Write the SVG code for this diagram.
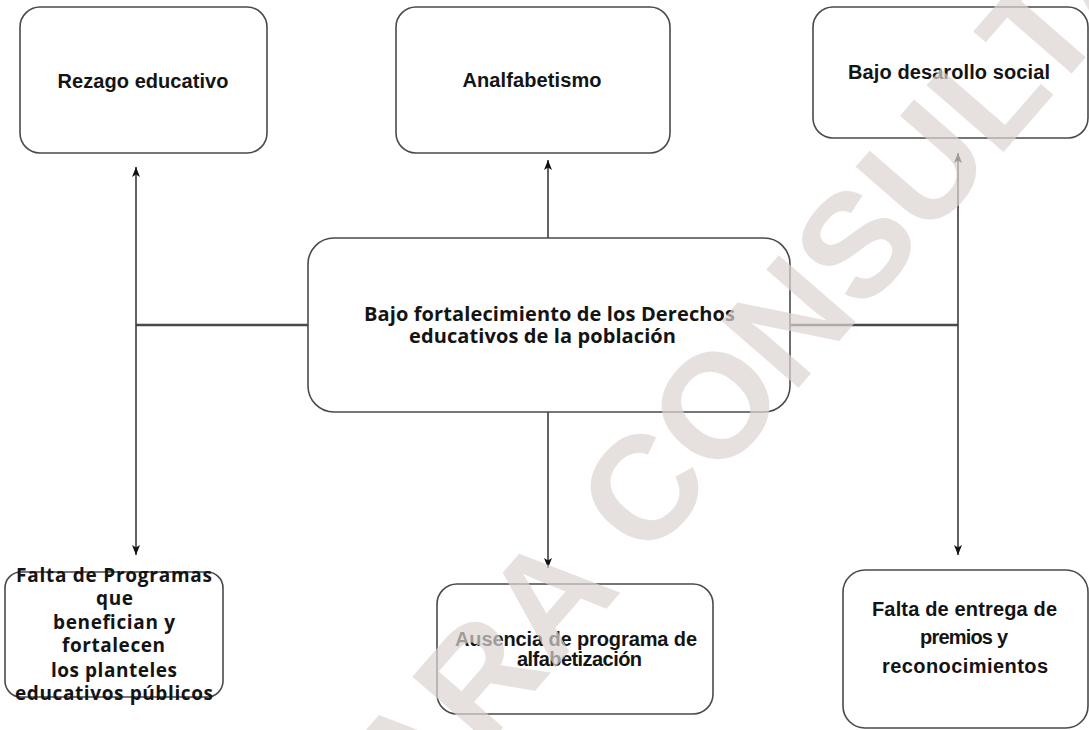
<svg xmlns="http://www.w3.org/2000/svg" width="1089" height="730" viewBox="0 0 1089 730">
<style>
.box{fill:#fff;stroke:#4a4a4a;stroke-width:1.6}
.t{font-family:"Liberation Sans",Arial,sans-serif;font-weight:bold;font-size:20px;fill:#141414;text-anchor:middle}
.h{font-family:"Open Sans","Noto Sans",sans-serif;font-weight:bold;fill:#141414;text-anchor:middle}
.ln{stroke:#3a3a3a;stroke-width:1.6;fill:none}
.lnb{stroke:#4a4a4a;stroke-width:2.6;fill:none}
.wm{font-family:"Liberation Sans",Arial,sans-serif;font-weight:bold;font-size:148px;fill:#dcd5d2;opacity:0.7}
</style>
<defs>
<marker id="ah" viewBox="0 0 10 10" refX="10" refY="5" markerWidth="10" markerHeight="10" markerUnits="userSpaceOnUse" orient="auto">
<path d="M0,1 L10,5 L0,9 L2.5,5 Z" fill="#111"/>
</marker>
</defs>
<rect width="1089" height="730" fill="#fff"/>
<g id="connectors">
<line class="lnb" x1="136" y1="325" x2="308" y2="325"/>
<line class="lnb" x1="790" y1="325" x2="958" y2="325"/>
<line class="ln" x1="136" y1="325" x2="136" y2="167" marker-end="url(#ah)"/>
<line class="ln" x1="136" y1="325" x2="136" y2="555" marker-end="url(#ah)"/>
<line class="ln" x1="548" y1="238" x2="548" y2="160" marker-end="url(#ah)"/>
<line class="ln" x1="548" y1="412" x2="548" y2="568" marker-end="url(#ah)"/>
<line class="ln" x1="958" y1="325" x2="958" y2="153" marker-end="url(#ah)"/>
<line class="ln" x1="958" y1="325" x2="958" y2="555" marker-end="url(#ah)"/>
</g>
<g id="n-rezago">
<rect class="box" x="20" y="7" width="247" height="146" rx="20"/>
<text class="t" x="143" y="88" textLength="171">Rezago educativo</text>
</g>
<g id="n-analfabetismo">
<rect class="box" x="396" y="7" width="274" height="146" rx="20"/>
<text class="t" x="532" y="87" textLength="139">Analfabetismo</text>
</g>
<g id="n-desarrollo">
<rect class="box" x="813" y="7" width="275" height="131" rx="20"/>
<text class="t" x="949" y="79" textLength="202">Bajo desarollo social</text>
</g>
<g id="n-centro">
<rect class="box" x="308" y="238" width="482" height="174" rx="26"/>
<text class="h" font-size="20" x="549.5" y="321" textLength="371">Bajo fortalecimiento de los Derechos</text>
<text class="h" font-size="20" x="542.5" y="343" textLength="267">educativos de la población</text>
</g>
<g id="n-programas">
<rect class="box" x="5" y="572" width="218" height="125" rx="16"/>
<text class="h" font-size="19" x="114" y="582" textLength="196">Falta de Programas</text>
<text class="h" font-size="19" x="114.5" y="605" textLength="37">que</text>
<text class="h" font-size="19" x="114" y="629" textLength="122">benefician y</text>
<text class="h" font-size="19" x="113.5" y="652" textLength="103">fortalecen</text>
<text class="h" font-size="19" x="114" y="677" textLength="126">los planteles</text>
<text class="h" font-size="19" x="114" y="700" textLength="198">educativos públicos</text>
</g>
<g id="n-ausencia">
<rect class="box" x="437" y="584" width="276" height="130" rx="20"/>
<text class="t" x="576" y="646" textLength="242">Ausencia de programa de</text>
<text class="t" x="579.5" y="666" textLength="125">alfabetización</text>
</g>
<g id="n-entrega">
<rect class="box" x="843" y="570" width="245" height="158" rx="22"/>
<text class="t" x="964.5" y="616" textLength="185">Falta de entrega de</text>
<text class="t" x="964" y="644" textLength="88">premios y</text>
<text class="t" x="965" y="673" textLength="166">reconocimientos</text>
</g>
<text class="wm" transform="translate(355 898) rotate(-49)">PARA CONSULTA</text>
</svg>
